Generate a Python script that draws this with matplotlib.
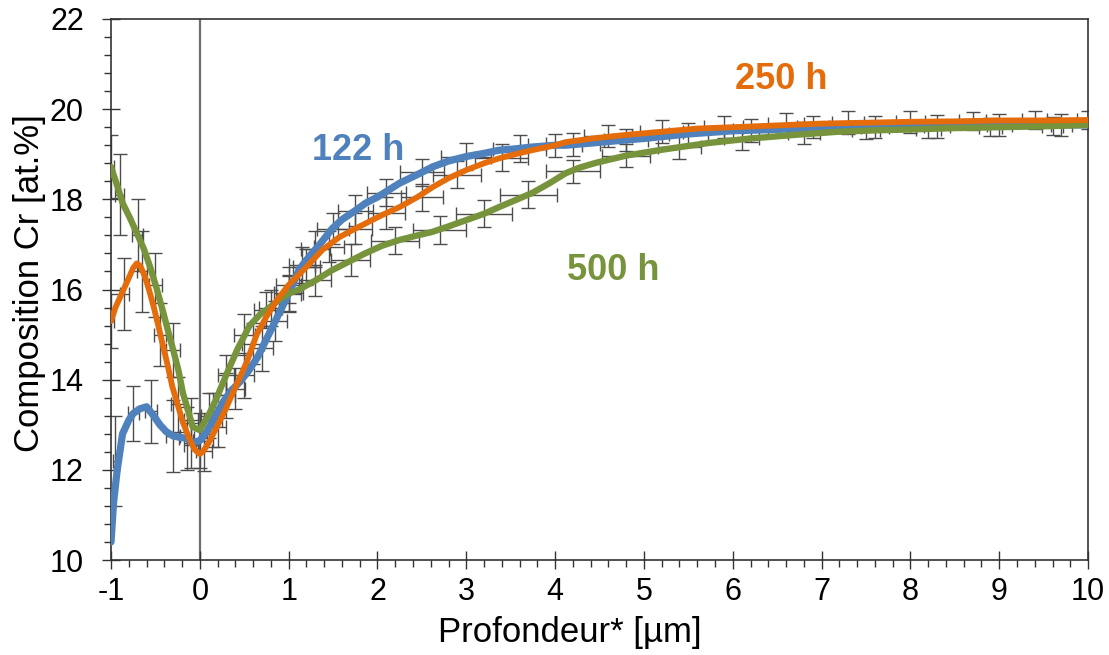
import matplotlib
matplotlib.use("Agg")
import matplotlib.pyplot as plt
from matplotlib.ticker import MultipleLocator

plt.rcParams['font.family'] = ['Liberation Sans', 'DejaVu Sans']

# ---- data ----
x_122 = [-1.0, -0.97, -0.93, -0.9, -0.87, -0.8, -0.75, -0.68, -0.6, -0.52, -0.45, -0.38, -0.3,
         -0.22, -0.15, -0.08, 0.0, 0.08, 0.15, 0.26, 0.35, 0.45, 0.55, 0.65, 0.8, 0.9, 1.01,
         1.12, 1.24, 1.35, 1.49, 1.6, 1.75, 1.87, 2.0, 2.25, 2.45, 2.62, 2.8, 3.0, 3.2, 3.37,
         3.55, 3.74, 4.0, 4.12, 4.42, 4.7, 5.0, 5.5, 6.0, 6.5, 7.0, 7.5, 8.0, 8.5, 9.0, 9.5, 10.0]
y_122 = [10.4, 11.3, 12.0, 12.4, 12.8, 13.1, 13.25, 13.35, 13.4, 13.2, 13.0, 12.85, 12.75,
         12.72, 12.7, 12.6, 12.65, 12.85, 13.1, 13.5, 13.75, 13.95, 14.2, 14.5, 15.1, 15.5, 15.95,
         16.45, 16.75, 17.0, 17.35, 17.55, 17.75, 17.92, 18.05, 18.36, 18.55, 18.72, 18.85, 18.95,
         19.02, 19.09, 19.12, 19.16, 19.2, 19.2, 19.25, 19.3, 19.35, 19.45, 19.52, 19.55, 19.6,
         19.6, 19.62, 19.62, 19.65, 19.65, 19.65]

x_250 = [-1.0, -0.95, -0.87, -0.79, -0.75, -0.71, -0.67, -0.62, -0.57, -0.52, -0.47, -0.42,
         -0.36, -0.31, -0.25, -0.19, -0.12, -0.06, 0.0, 0.04, 0.1, 0.19, 0.28, 0.37, 0.45, 0.53,
         0.64, 0.75, 0.87, 1.0, 1.09, 1.2, 1.38, 1.57, 1.75, 1.87, 2.05, 2.25, 2.45, 2.62, 2.8,
         3.0, 3.2, 3.37, 3.55, 3.74, 4.0, 4.12, 4.46, 4.8, 5.2, 5.6, 6.0, 6.5, 7.0, 7.5, 8.0,
         8.5, 9.0, 9.5, 10.0]
y_250 = [15.3, 15.6, 15.95, 16.3, 16.48, 16.58, 16.52, 16.3, 15.98, 15.62, 15.22, 14.8, 14.3,
         13.85, 13.45, 13.05, 12.7, 12.45, 12.35, 12.42, 12.6, 12.95, 13.3, 13.7, 14.05, 14.4,
         15.0, 15.4, 15.77, 16.1, 16.28, 16.5, 16.88, 17.16, 17.35, 17.47, 17.65, 17.83, 18.05,
         18.27, 18.47, 18.65, 18.8, 18.91, 19.0, 19.09, 19.2, 19.27, 19.36, 19.43, 19.5, 19.57,
         19.6, 19.64, 19.68, 19.7, 19.72, 19.73, 19.75, 19.75, 19.76]

x_500 = [-1.0, -0.93, -0.87, -0.79, -0.71, -0.63, -0.56, -0.49, -0.42, -0.36, -0.3, -0.24,
         -0.19, -0.13, -0.08, 0.0, 0.05, 0.11, 0.18, 0.26, 0.34, 0.42, 0.56, 0.68, 0.79, 0.9,
         1.01, 1.12, 1.31, 1.49, 1.68, 1.87, 2.05, 2.25, 2.45, 2.62, 2.8, 3.0, 3.2, 3.37, 3.55,
         3.74, 3.93, 4.12, 4.27, 4.46, 4.8, 5.2, 5.73, 6.2, 6.7, 7.19, 7.6, 8.0, 8.5, 9.0, 9.5, 10.0]
y_500 = [18.72, 18.3, 17.92, 17.6, 17.25, 16.9, 16.5, 16.05, 15.55, 15.1, 14.66, 14.2, 13.7,
         13.3, 12.95, 12.88, 13.05, 13.26, 13.55, 13.93, 14.3, 14.66, 15.2, 15.45, 15.61, 15.78,
         15.92, 16.0, 16.21, 16.43, 16.62, 16.81, 16.97, 17.1, 17.2, 17.28, 17.4, 17.54, 17.68,
         17.83, 17.98, 18.14, 18.35, 18.58, 18.7, 18.81, 18.97, 19.1, 19.25, 19.35, 19.43, 19.5,
         19.53, 19.55, 19.58, 19.6, 19.62, 19.65]

# error bars (centre x, centre y, x error, y error)
eb122_x = [-0.95, -0.75, -0.55, -0.3, -0.15, 0.0, 0.15, 0.3, 0.5, 0.7, 0.85, 1.0, 1.15, 1.3,
           1.5, 1.75, 2.1, 2.5, 3.0, 3.6, 4.2, 4.8, 5.5, 6.2, 6.9, 7.6, 8.3, 9.0, 9.7]
eb122_y = [12.2, 13.25, 13.3, 12.75, 12.7, 12.65, 13.1, 13.65, 14.1, 14.7, 15.3, 15.9, 16.55,
           16.9, 17.35, 17.75, 18.15, 18.6, 18.95, 19.12, 19.22, 19.32, 19.45, 19.53, 19.6,
           19.6, 19.62, 19.65, 19.65]
eb122_xe = [0.03, 0.06, 0.07, 0.08, 0.08, 0.08, 0.1, 0.1, 0.11, 0.12, 0.13, 0.14, 0.15, 0.16,
            0.18, 0.2, 0.22, 0.25, 0.28, 0.3, 0.3, 0.25, 0.22, 0.2, 0.18, 0.16, 0.15, 0.14, 0.12]
eb122_ye = [1.0, 0.6, 0.7, 0.8, 0.7, 0.6, 0.6, 0.5, 0.5, 0.5, 0.45, 0.4, 0.4, 0.4, 0.35, 0.35,
            0.3, 0.3, 0.3, 0.3, 0.25, 0.25, 0.25, 0.25, 0.25, 0.25, 0.25, 0.25, 0.25]

eb250_x = [-1.0, -0.85, -0.65, -0.45, -0.25, -0.1, 0.05, 0.2, 0.4, 0.6, 0.8, 1.0, 1.2, 1.45,
           1.75, 2.1, 2.5, 2.9, 3.4, 4.0, 4.6, 5.2, 5.9, 6.6, 7.3, 8.0, 8.7, 9.4, 10.0]
eb250_y = [15.3, 15.9, 16.4, 15.0, 13.45, 12.55, 12.42, 12.95, 13.8, 14.8, 15.6, 16.1, 16.5,
           16.95, 17.35, 17.7, 18.05, 18.55, 18.92, 19.2, 19.4, 19.5, 19.6, 19.66, 19.7, 19.72,
           19.74, 19.75, 19.76]
eb250_xe = [0.03, 0.05, 0.06, 0.07, 0.08, 0.08, 0.09, 0.1, 0.11, 0.12, 0.13, 0.14, 0.15, 0.17,
            0.19, 0.21, 0.24, 0.27, 0.3, 0.3, 0.27, 0.24, 0.22, 0.2, 0.18, 0.16, 0.15, 0.14, 0.12]
eb250_ye = [0.6, 0.8, 0.9, 0.7, 0.6, 0.5, 0.45, 0.45, 0.45, 0.45, 0.4, 0.4, 0.4, 0.35, 0.35,
            0.35, 0.3, 0.3, 0.3, 0.25, 0.25, 0.25, 0.25, 0.25, 0.25, 0.25, 0.2, 0.2, 0.2]

eb500_x = [-1.0, -0.9, -0.7, -0.5, -0.3, -0.1, 0.1, 0.3, 0.5, 0.75, 1.0, 1.3, 1.7, 2.2, 2.7,
           3.2, 3.7, 4.2, 4.8, 5.4, 6.1, 6.8, 7.5, 8.2, 8.9, 9.6]
eb500_y = [18.72, 18.1, 17.2, 16.1, 14.66, 13.1, 13.2, 14.1, 15.0, 15.55, 15.92, 16.2, 16.65,
           17.08, 17.32, 17.68, 18.1, 18.62, 18.97, 19.15, 19.35, 19.47, 19.53, 19.57, 19.6,
           19.63]
eb500_xe = [0.03, 0.05, 0.06, 0.07, 0.08, 0.08, 0.09, 0.1, 0.12, 0.14, 0.16, 0.18, 0.22, 0.27,
            0.3, 0.32, 0.32, 0.3, 0.27, 0.24, 0.2, 0.18, 0.16, 0.14, 0.13, 0.12]
eb500_ye = [0.7, 0.9, 0.8, 0.7, 0.6, 0.5, 0.5, 0.45, 0.45, 0.4, 0.4, 0.35, 0.35, 0.3, 0.3,
            0.3, 0.3, 0.25, 0.25, 0.25, 0.25, 0.25, 0.2, 0.2, 0.2, 0.2]

labels = ["122 h", "250 h", "500 h"]
label_pos_x = [1.78, 6.55, 4.65]
label_pos_y = [19.09, 20.65, 16.43]
colors = ["#4F81BD", "#E46C0A", "#77933C"]

x_ticks = list(range(-1, 11))
y_ticks = [10, 12, 14, 16, 18, 20, 22]

# ---- figure ----
fig = plt.figure(figsize=(11.09, 6.55), dpi=100)
ax = fig.add_axes([0.1001, 0.145, 0.8810, 0.826])

ecol = "#4D4D4D"
ax.axvline(0, color="#6F6F6F", lw=1.6, zorder=1)

for ex, ey, xe, ye in [(eb122_x, eb122_y, eb122_xe, eb122_ye),
                       (eb250_x, eb250_y, eb250_xe, eb250_ye),
                       (eb500_x, eb500_y, eb500_xe, eb500_ye)]:
    ax.errorbar(ex, ey, xerr=xe, yerr=ye, fmt='none', ecolor=ecol, elinewidth=1.0,
                capsize=5, capthick=1.0, zorder=2)

ax.plot(x_122, y_122, color=colors[0], lw=5.2, solid_joinstyle='round', solid_capstyle='round', zorder=3)
ax.plot(x_500, y_500, color=colors[2], lw=4.6, solid_joinstyle='round', solid_capstyle='round', zorder=4)
ax.plot(x_250, y_250, color=colors[1], lw=4.2, solid_joinstyle='round', solid_capstyle='round', zorder=5)

for lab, lx, ly, c in zip(labels, label_pos_x, label_pos_y, colors):
    ax.text(lx, ly, lab, color=c, fontsize=26, fontweight='bold', ha='center', va='center')

ax.set_xlim(-1, 10)
ax.set_ylim(10, 22)
ax.set_xticks(x_ticks)
ax.set_xticklabels([str(t) for t in x_ticks])
ax.set_yticks(y_ticks)
ax.xaxis.set_minor_locator(MultipleLocator(0.2))
ax.yaxis.set_minor_locator(MultipleLocator(0.4))
ax.tick_params(which='major', direction='inout', length=13, width=1.0, color='#333333',
               labelsize=22)
ax.tick_params(axis='x', which='major', pad=6)
ax.tick_params(axis='y', which='major', pad=13)
ax.tick_params(which='minor', direction='out', length=5, width=1.0, color='#333333')
for s in ax.spines.values():
    s.set_color('#333333')
    s.set_linewidth(1.2)

ax.set_xlabel("Profondeur* [µm]", fontsize=25)
ax.set_ylabel("Composition Cr [at.%]", fontsize=25)
ax.xaxis.set_label_coords(0.47, -0.1035)
ax.yaxis.set_label_coords(-0.0665, 0.512)

fig.savefig("out.png", dpi=100)
